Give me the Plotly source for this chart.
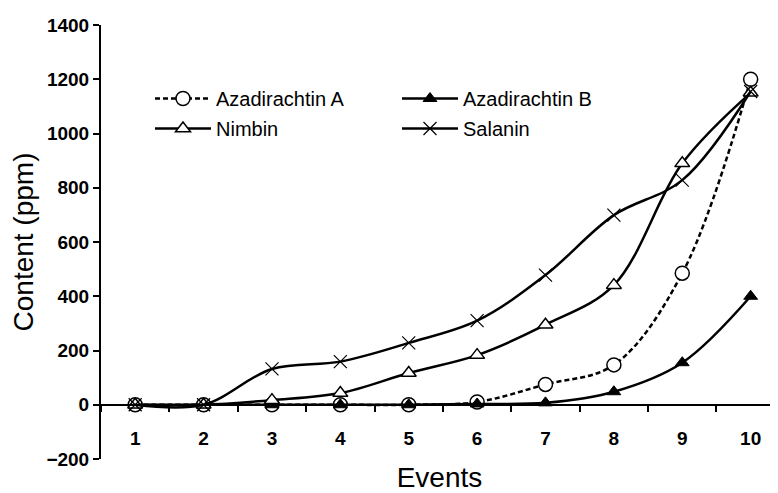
import plotly.graph_objects as go

events = ["1", "2", "3", "4", "5", "6", "7", "8", "9", "10"]
aza_a = [0, 0, 0, 0, 0, 10, 75, 147, 485, 1200]
aza_b = [0, 0, 0, 0, 0, 3, 7, 48, 155, 400]
nimbin = [0, 0, 17, 43, 117, 183, 295, 441, 890, 1150]
salanin = [0, 0, 132, 159, 228, 310, 478, 699, 828, 1155]
y_ticks = [-200, 0, 200, 400, 600, 800, 1000, 1200, 1400]

FONT = "Liberation Sans"
# page body has an 8px margin: figure drawn from (8, 8)
L, T, W, H = 93, 17, 677, 434
fig = go.Figure()

fig.add_trace(go.Scatter(
    x=events, y=aza_a, name="Azadirachtin A", mode="lines+markers",
    line=dict(color="black", width=2.5, shape="spline", dash="5px,3px"),
    marker=dict(symbol="circle", size=14, color="white", line=dict(color="black", width=1.5)),
    legend="legend", legendgroup="a", cliponaxis=False))
fig.add_trace(go.Scatter(
    x=events, y=aza_b, name="Azadirachtin B", mode="lines+markers",
    line=dict(color="black", width=2.5, shape="spline"),
    marker=dict(symbol="triangle-up", size=12, color="black", line=dict(color="black", width=1)),
    legend="legend2", legendgroup="b", cliponaxis=False))
fig.add_trace(go.Scatter(
    x=events, y=nimbin, name="Nimbin", mode="lines+markers",
    line=dict(color="black", width=2.5, shape="spline"),
    marker=dict(symbol="triangle-up", size=13, color="white", line=dict(color="black", width=1.5)),
    legend="legend", legendgroup="c", cliponaxis=False))
fig.add_trace(go.Scatter(
    x=events, y=salanin, name="Salanin", mode="lines+markers",
    line=dict(color="black", width=2.5, shape="spline"),
    marker=dict(symbol="x-thin-open", size=13, line=dict(color="#555", width=1.2)),
    legend="legend2", legendgroup="d", cliponaxis=False))

legend_common = dict(
    font=dict(family=FONT, size=20, color="black"),
    bgcolor="rgba(0,0,0,0)", itemwidth=56, tracegroupgap=1,
    traceorder="grouped", xanchor="left", yanchor="top",
    itemclick=False,
)

fig.update_layout(
    width=770, height=485,
    margin=dict(l=L, r=0, t=T, b=34, autoexpand=False),
    paper_bgcolor="white", plot_bgcolor="white",
    font=dict(family=FONT, color="black"),
    legend=dict(x=49 / W, y=(H - 54) / H, **legend_common),
    legend2=dict(x=296 / W, y=(H - 54) / H, **legend_common),
    xaxis=dict(
        type="category", range=[-0.5, 9.4],
        anchor="free", position=0.125, automargin=False,
        showline=True, linecolor="black", linewidth=2,
        ticks="outside", tickson="boundaries", ticklen=6, tickwidth=1.5, tickcolor="black",
        tickfont=dict(family=FONT, size=19, weight="bold"),
        ticklabelstandoff=16,
        showgrid=False, zeroline=False,
        title=dict(text="Events", font=dict(family=FONT, size=28), standoff=22),
    ),
    yaxis=dict(
        range=[-200, 1400], tickvals=y_ticks, automargin=False,
        showline=True, linecolor="black", linewidth=2,
        ticks="outside", ticklen=6, tickwidth=2, tickcolor="black",
        tickfont=dict(family=FONT, size=19, weight="bold"),
        showgrid=False, zeroline=False,
        title=dict(text="Content (ppm)", font=dict(family=FONT, size=28), standoff=6),
    ),
)

fig.write_html("out.html")
